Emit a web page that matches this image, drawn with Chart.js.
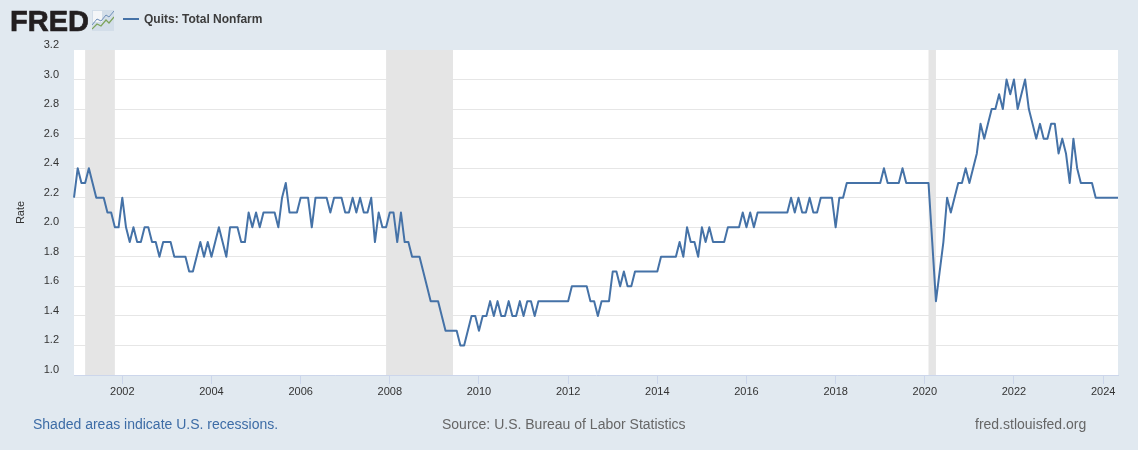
<!DOCTYPE html>
<html>
<head>
<meta charset="utf-8">
<title>Quits: Total Nonfarm</title>
<script src="https://cdn.jsdelivr.net/npm/chart.js@4"></script>
<style>
    html, body { margin: 0; padding: 0; background: #e1e9f0; }
    body { position: relative; width: 1138px; height: 450px; overflow: hidden; font-family: "Liberation Sans", Arial, sans-serif; }
    canvas { position: absolute; left: 0; top: 0; }
    .abs { position: absolute; white-space: nowrap; }
    .logo { left: 10px; top: 4px; font-size: 29px; line-height: 34px; font-weight: bold; color: #231f20; -webkit-text-stroke: 0.7px #231f20; }
    .icon { left: 92px; top: 10px; }
    .legend-line { left: 123px; top: 18px; width: 16px; height: 2px; background: #4572a7; }
    .legend-text { left: 144px; top: 12px; font-size: 12px; line-height: 14px; font-weight: bold; color: #3c3c3c; }
    .foot { top: 416px; font-size: 14px; line-height: 17px; color: #666; }
</style>
</head>
<body>
<canvas id="myChart" width="1138" height="450"></canvas>
<div class="abs logo">FRED</div>
<svg class="abs icon" width="22" height="21" viewBox="0 0 22 21">
    <rect width="22" height="21" fill="#d3dee9"/>
    <rect x="1" y="1" width="9" height="11" fill="#f4f6f8"/>
    <polyline points="0,15 5,9 9,11 14,5 17,7 22,1" fill="none" stroke="#6f8fb8" stroke-width="1"/>
    <polyline points="0,19 5,14 9,16 14,10 17,13 22,7" fill="none" stroke="#7da35a" stroke-width="1.2"/>
</svg>
<div class="abs legend-line"></div>
<div class="abs legend-text" id="legendText"></div>
<div class="abs foot" style="left:33px;color:#3d6ca6">Shaded areas indicate U.S. recessions.</div>
<div class="abs foot" style="left:442px">Source: U.S. Bureau of Labor Statistics</div>
<div class="abs foot" style="left:975px">fred.stlouisfed.org</div>
<script>
// series name
const seriesName = 'Quits: Total Nonfarm';

// first month of the series, the months run on from here (Dec 2000)
const firstYear = 2000;
const firstMonth = 11;

// quits rate, one value per month
const quitRates = [
    2.2,
    2.4, 2.3, 2.3, 2.4, 2.3, 2.2, 2.2, 2.2, 2.1, 2.1, 2.0, 2.0, // 2001
    2.2, 2.0, 1.9, 2.0, 1.9, 1.9, 2.0, 2.0, 1.9, 1.9, 1.8, 1.9, // 2002
    1.9, 1.9, 1.8, 1.8, 1.8, 1.8, 1.7, 1.7, 1.8, 1.9, 1.8, 1.9, // 2003
    1.8, 1.9, 2.0, 1.9, 1.8, 2.0, 2.0, 2.0, 1.9, 1.9, 2.1, 2.0, // 2004
    2.1, 2.0, 2.1, 2.1, 2.1, 2.1, 2.0, 2.2, 2.3, 2.1, 2.1, 2.1, // 2005
    2.2, 2.2, 2.2, 2.0, 2.2, 2.2, 2.2, 2.2, 2.1, 2.2, 2.2, 2.2, // 2006
    2.1, 2.1, 2.2, 2.1, 2.2, 2.1, 2.1, 2.2, 1.9, 2.1, 2.0, 2.0, // 2007
    2.1, 2.1, 1.9, 2.1, 1.9, 1.9, 1.8, 1.8, 1.8, 1.7, 1.6, 1.5, // 2008
    1.5, 1.5, 1.4, 1.3, 1.3, 1.3, 1.3, 1.2, 1.2, 1.3, 1.4, 1.4, // 2009
    1.3, 1.4, 1.4, 1.5, 1.4, 1.5, 1.4, 1.4, 1.5, 1.4, 1.4, 1.5, // 2010
    1.4, 1.5, 1.5, 1.4, 1.5, 1.5, 1.5, 1.5, 1.5, 1.5, 1.5, 1.5, // 2011
    1.5, 1.6, 1.6, 1.6, 1.6, 1.6, 1.5, 1.5, 1.4, 1.5, 1.5, 1.5, // 2012
    1.7, 1.7, 1.6, 1.7, 1.6, 1.6, 1.7, 1.7, 1.7, 1.7, 1.7, 1.7, // 2013
    1.7, 1.8, 1.8, 1.8, 1.8, 1.8, 1.9, 1.8, 2.0, 1.9, 1.9, 1.8, // 2014
    2.0, 1.9, 2.0, 1.9, 1.9, 1.9, 1.9, 2.0, 2.0, 2.0, 2.0, 2.1, // 2015
    2.0, 2.1, 2.0, 2.1, 2.1, 2.1, 2.1, 2.1, 2.1, 2.1, 2.1, 2.1, // 2016
    2.2, 2.1, 2.2, 2.1, 2.1, 2.2, 2.1, 2.1, 2.2, 2.2, 2.2, 2.2, // 2017
    2.0, 2.2, 2.2, 2.3, 2.3, 2.3, 2.3, 2.3, 2.3, 2.3, 2.3, 2.3, // 2018
    2.3, 2.4, 2.3, 2.3, 2.3, 2.3, 2.4, 2.3, 2.3, 2.3, 2.3, 2.3, // 2019
    2.3, 2.3, 1.9, 1.5, 1.7, 1.9, 2.2, 2.1, 2.2, 2.3, 2.3, 2.4, // 2020
    2.3, 2.4, 2.5, 2.7, 2.6, 2.7, 2.8, 2.8, 2.9, 2.8, 3.0, 2.9, // 2021
    3.0, 2.8, 2.9, 3.0, 2.8, 2.7, 2.6, 2.7, 2.6, 2.6, 2.7, 2.7, // 2022
    2.5, 2.6, 2.5, 2.3, 2.6, 2.4, 2.3, 2.3, 2.3, 2.3, 2.2, 2.2, // 2023
    2.2, 2.2, 2.2, 2.2, 2.2                                     // 2024
];

// recessions as [year, month] start and end
const recessions = [
    [[2001, 2], [2001, 10]],
    [[2007, 11], [2009, 5]],
    [[2020, 1], [2020, 3]]
];

// convert year and month to a position on the x axis
function yearPosition(year, month) {
    return year + month / 12;
}

const points = quitRates.map((rate, index) => ({
    x: yearPosition(firstYear, firstMonth + index),
    y: rate
}));

document.getElementById('legendText').textContent = seriesName;

// draws the grey recession bands behind the line
const recessionBands = {
    id: 'recessionBands',
    beforeDatasetsDraw(chart) {
        const { ctx, chartArea, scales } = chart;
        ctx.save();
        ctx.fillStyle = '#e5e5e5';
        for (const [start, end] of recessions) {
            const left = scales.x.getPixelForValue(yearPosition(start[0], start[1]));
            const right = scales.x.getPixelForValue(yearPosition(end[0], end[1]));
            ctx.fillRect(left, chartArea.top, right - left, chartArea.bottom - chartArea.top);
        }
        ctx.restore();
    }
};

// white plot background
const plotBackground = {
    id: 'plotBackground',
    beforeDraw(chart) {
        const { ctx, chartArea } = chart;
        ctx.save();
        ctx.fillStyle = '#ffffff';
        ctx.fillRect(chartArea.left, chartArea.top, chartArea.right - chartArea.left, chartArea.bottom - chartArea.top);
        ctx.restore();
    }
};

const ctx = document.getElementById('myChart').getContext('2d');
new Chart(ctx, {
    type: 'line',
    data: {
        datasets: [{
            label: seriesName,
            data: points,
            borderColor: '#4572a7',
            borderWidth: 2,
            borderJoinStyle: 'round',
            pointRadius: 0,
            tension: 0,
            clip: false
        }]
    },
    options: {
        responsive: false,
        animation: false,
        layout: { padding: { top: 50, right: 20, left: 0, bottom: 0 } },
        plugins: {
            legend: { display: false },
            tooltip: { enabled: false }
        },
        scales: {
            x: {
                type: 'linear',
                min: yearPosition(firstYear, firstMonth),
                max: yearPosition(firstYear, firstMonth + quitRates.length - 1),
                afterFit(scale) { scale.height = 75; },
                border: { color: '#ccd6eb', width: 1 },
                grid: { drawOnChartArea: false, drawTicks: true, tickLength: 9, color: '#ccd6eb' },
                ticks: {
                    stepSize: 2,
                    includeBounds: false,
                    maxRotation: 0,
                    padding: 1,
                    color: '#333333',
                    font: { family: '"Liberation Sans", Arial, sans-serif', size: 11 },
                    callback: value => String(value)
                }
            },
            y: {
                min: 1,
                max: 3.2,
                afterFit(scale) { scale.width = 74; },
                border: { display: false },
                grid: {
                    drawTicks: false,
                    color: context => (context.tick.value > 3.1 || context.tick.value < 1.1) ? 'rgba(0,0,0,0)' : '#e6e6e6'
                },
                title: {
                    display: true,
                    text: 'Rate',
                    color: '#333333',
                    font: { family: '"Liberation Sans", Arial, sans-serif', size: 11 },
                    padding: { top: 14, bottom: 0 }
                },
                ticks: {
                    stepSize: 0.2,
                    padding: 15,
                    labelOffset: -5,
                    color: '#333333',
                    font: { family: '"Liberation Sans", Arial, sans-serif', size: 11 },
                    callback: value => value.toFixed(1)
                }
            }
        }
    },
    plugins: [plotBackground, recessionBands]
});
</script>
</body>
</html>
